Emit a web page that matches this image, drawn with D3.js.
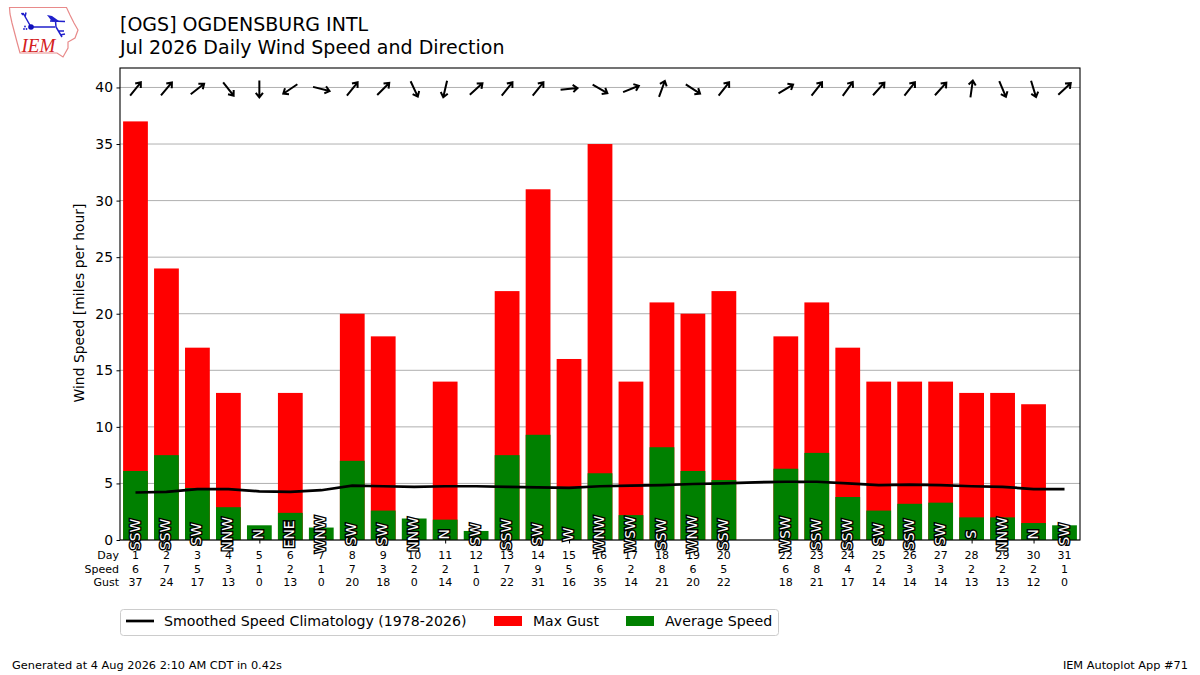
<!DOCTYPE html>
<html><head><meta charset="utf-8">
<script src="https://cdn.jsdelivr.net/npm/d3@7/dist/d3.min.js"></script>
<style>html,body{margin:0;padding:0;background:#fff}svg{display:block}text{font-family:"DejaVu Sans",sans-serif;fill:#000}</style>
</head><body><svg id="c" width="1200" height="675"></svg>
<script>
const days = [1,2,3,4,5,6,7,8,9,10,11,12,13,14,15,16,17,18,19,20,22,23,24,25,26,27,28,29,30,31];
const avgSpeed = [6.1,7.5,4.6,2.9,1.3,2.4,1.1,7.0,2.6,1.9,1.8,0.8,7.5,9.3,4.7,5.9,2.2,8.2,6.1,5.3,6.3,7.7,3.8,2.6,3.2,3.3,2.0,2.0,1.5,1.3];
const maxGust = [37,24,17,13,0,13,0,20,18,0,14,0,22,31,16,35,14,21,20,22,18,21,17,14,14,14,13,13,12,0];
const speedLabels = [6,7,5,3,1,2,1,7,3,2,2,1,7,9,5,6,2,8,6,5,6,8,4,2,3,3,2,2,2,1];
const dirLabels = ["SSW","SSW","SW","NNW","N","ENE","WNW","SW","SW","NNW","N","SW","SSW","SW","W","WNW","WSW","SSW","WNW","SSW","WSW","SSW","SSW","SW","SSW","SW","S","NNW","N","SW"];
const arrowBearing = [39,40,52,142,180,236,104,39,45,155,193,48,39,39,84,120,68,20,123,38,59,38,36,42,38,42,8,157,163,47];
const climoDays = d3.range(1,32);
const climoSpeed = [4.2,4.25,4.5,4.5,4.3,4.25,4.4,4.8,4.75,4.7,4.75,4.75,4.7,4.65,4.6,4.75,4.8,4.85,4.95,5.0,5.1,5.15,5.15,5.0,4.85,4.9,4.85,4.75,4.7,4.5,4.5];
const yTicks = [0,5,10,15,20,25,30,35,40];
const rowNames = ["Day","Speed","Gust"];

const svg = d3.select("#c");
const L=120,R=1080,T=68,B=540;
const x = d3.scaleLinear().domain([0.5,31.5]).range([L,R]);
const y = d3.scaleLinear().domain([0,41.72]).range([B,T]);
const bw = x(0.8)-x(0);

// logo
const logo = svg.append("g");
logo.append("path").attr("d","M9.5,7.5 L66.5,7.5 L70,15 L74,23 L78,30 L75,38 L68,42 L68,48 L63,57 L57,53 L20,53 L17,42 L12,23 L10,14 Z")
  .attr("fill","none").attr("stroke","#e88a8a").attr("stroke-width",1.2);
logo.append("path").attr("d","M31,27 L55,27 M50,21 L65,21.5 M55.5,21 L56,27 L62,37 M58,31 L64,31 M60,35 L65,34 M31,27 L23,13 M21.5,13 L23,15 M26,12.5 L25,17")
  .attr("fill","none").attr("stroke","#2020cc").attr("stroke-width",1.5);
logo.append("path").attr("d","M47,15 L52,16 L59,21 L52,21.5 Z").attr("fill","#2020cc");
logo.append("circle").attr("cx",31).attr("cy",27).attr("r",2.8).attr("fill","#1010bb");
logo.append("circle").attr("cx",24).attr("cy",29).attr("r",0.9).attr("fill","#2020cc");
logo.append("circle").attr("cx",26.5).attr("cy",29).attr("r",0.9).attr("fill","#2020cc");
logo.append("circle").attr("cx",25).attr("cy",26.5).attr("r",0.9).attr("fill","#2020cc");
logo.append("text").attr("x",21.5).attr("y",51.5).style("font-family","Liberation Serif").attr("font-style","italic").attr("font-size",19).style("fill","#d42020").text("IEM");

// titles
svg.append("text").attr("x",120).attr("y",31).attr("font-size",19).text("[OGS] OGDENSBURG INTL");
svg.append("text").attr("x",120).attr("y",54).attr("font-size",19).text("Jul 2026 Daily Wind Speed and Direction");

// grid
svg.append("g").selectAll("line").data(yTicks).join("line")
  .attr("x1",L).attr("x2",R).attr("y1",d=>y(d)).attr("y2",d=>y(d))
  .attr("stroke","#b0b0b0").attr("stroke-width",1);

// bars
svg.append("g").selectAll("rect").data(days).join("rect")
  .attr("x",d=>x(d)-bw/2).attr("width",bw)
  .attr("y",(d,i)=>y(maxGust[i])).attr("height",(d,i)=>B-y(maxGust[i])).attr("fill","#ff0000");
svg.append("g").selectAll("rect").data(days).join("rect")
  .attr("x",d=>x(d)-bw/2).attr("width",bw)
  .attr("y",(d,i)=>y(avgSpeed[i])).attr("height",(d,i)=>B-y(avgSpeed[i])).attr("fill","#008000");

// climatology
svg.append("path").attr("d",d3.line().x(d=>x(d)).y((d,i)=>y(climoSpeed[i]))(climoDays))
  .attr("fill","none").attr("stroke","#000").attr("stroke-width",2.7);

// arrows
svg.append("g").selectAll("path").data(days).join("path")
  .attr("transform",(d,i)=>`translate(${x(d)},${y(40)+1.5}) rotate(${arrowBearing[i]})`)
  .attr("d","M0,8.5 L0,-8.5 M-3.6,-4 L0,-8.5 L3.6,-4")
  .attr("fill","none").attr("stroke","#000").attr("stroke-width",2);

// frame
svg.append("rect").attr("x",L).attr("y",T).attr("width",R-L).attr("height",B-T).attr("fill","none").attr("stroke","#000").attr("stroke-width",1.1);

// y axis
const yAxis = d3.axisLeft(y).tickValues(yTicks).tickSize(3.5).tickPadding(3.5);
const gy = svg.append("g").attr("transform",`translate(${L},0)`).call(yAxis);
gy.select(".domain").remove();
gy.selectAll("text").attr("font-size",13.9).style("font-family","DejaVu Sans");
gy.selectAll("line").attr("stroke","#000");
svg.append("text").attr("transform","translate(84,303) rotate(-90)").attr("text-anchor","middle").attr("font-size",13.9).text("Wind Speed [miles per hour]");

// x ticks + rows
const gx = svg.append("g").attr("transform",`translate(0,${B})`).call(d3.axisBottom(x).tickValues(days).tickSize(3.5).tickFormat(""));
gx.select(".domain").remove();
gx.selectAll("line").attr("stroke","#000");
const rowY=[559,573,586];
rowNames.forEach((n,i)=>svg.append("text").attr("x",119).attr("y",rowY[i]).attr("text-anchor","end").attr("font-size",11).text(n));
const rowVals=[days,speedLabels,maxGust];
rowVals.forEach((vals,r)=>svg.append("g").selectAll("text").data(days).join("text")
  .attr("x",d=>x(d)).attr("y",rowY[r]).attr("text-anchor","middle").attr("font-size",11).text((d,i)=>vals[i]));

// direction labels, on top of everything
svg.append("g").attr("opacity",0.999).selectAll("text").data(days).join("text")
  .attr("transform",d=>`translate(${x(d)},${y(0.5)}) rotate(-90)`)
  .attr("text-anchor","middle").attr("dy","0.29em").attr("font-size",13.9)
  .attr("stroke","#000").attr("stroke-width",2.8).attr("paint-order","stroke")
  .style("fill","#fff").text((d,i)=>dirLabels[i]);

// legend
const lg = svg.append("g");
lg.append("rect").attr("x",120.5).attr("y",609.5).attr("width",658).attr("height",26).attr("rx",3).attr("fill","#fff").attr("stroke","#ccc");
lg.append("line").attr("x1",126).attr("x2",154).attr("y1",621).attr("y2",621).attr("stroke","#000").attr("stroke-width",2.7);
lg.append("text").attr("x",164).attr("y",626).attr("font-size",14.15).text("Smoothed Speed Climatology (1978-2026)");
lg.append("rect").attr("x",494).attr("y",616).attr("width",28).attr("height",10).attr("fill","#ff0000");
lg.append("text").attr("x",533).attr("y",626).attr("font-size",14).text("Max Gust");
lg.append("rect").attr("x",626).attr("y",616).attr("width",28).attr("height",10).attr("fill","#008000");
lg.append("text").attr("x",665).attr("y",626).attr("font-size",14.2).text("Average Speed");

// footer
svg.append("text").attr("x",12).attr("y",669).attr("font-size",11.33).text("Generated at 4 Aug 2026 2:10 AM CDT in 0.42s");
svg.append("text").attr("x",1188).attr("y",669).attr("text-anchor","end").attr("font-size",11.33).text("IEM Autoplot App #71");
</script></body></html>
